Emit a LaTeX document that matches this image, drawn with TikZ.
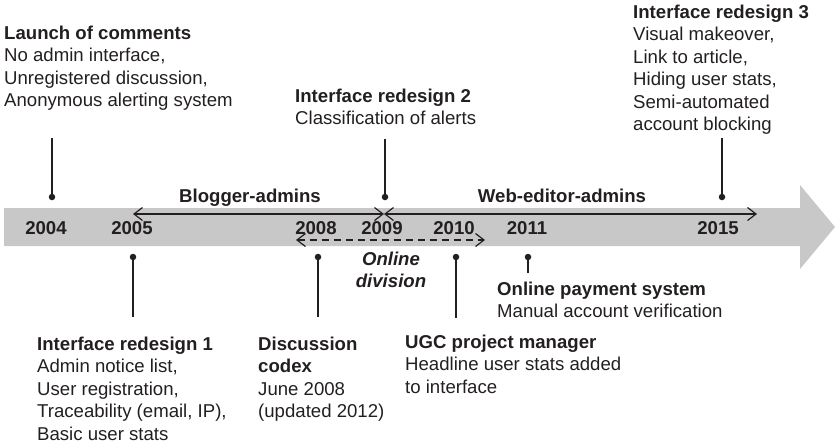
\documentclass[tikz,border=0pt]{standalone}
\usepackage{fontspec}
\setmainfont{Liberation Sans}
\usetikzlibrary{arrows.meta}

\definecolor{ink}{RGB}{35,31,32}
\definecolor{bandgray}{RGB}{200,200,200}
\newcommand\bodysize{\fontsize{18.6}{22.5}\selectfont}
% invisible rule that fixes the height of the first line of a text block
\newcommand\firstline{\rule{0pt}{15pt}}

\begin{document}
\begin{tikzpicture}[x=1pt, y=-1pt,
  txt/.style={anchor=north west, inner sep=0pt, align=left, text=ink, font=\bodysize},
  yearlbl/.style={anchor=base, inner sep=0pt, text=ink, font=\bodysize\bfseries},
  eralbl/.style={anchor=base, inner sep=0pt, text=ink, font=\bodysize\bfseries},
  dot/.style={circle, fill=ink, inner sep=0pt, minimum size=6.5pt},
  stem/.style={draw=ink, line width=1.4pt},
  tip/.tip={Straight Barb[length=8.5pt, width=13pt]},
  span/.style={draw=ink, line width=1.2pt, tip-tip},
  spandash/.style={span, dash pattern=on 7pt off 5pt}
]
\useasboundingbox (0,0) rectangle (835,445);

% timeline band with arrow head
\fill[bandgray] (4,208) -- (800,208) -- (800,185) -- (835,227)
  -- (800,269) -- (800,246) -- (4,246) -- cycle;

% years
\node[yearlbl] (y2004) at (46,234) {2004};
\node[yearlbl] (y2005) at (132,234) {2005};
\node[yearlbl] (y2008) at (316,234) {2008};
\node[yearlbl] (y2009) at (382,234) {2009};
\node[yearlbl] (y2010) at (454,234) {2010};
\node[yearlbl] (y2011) at (527,234) {2011};
\node[yearlbl] (y2015) at (718,234) {2015};

% eras
\node[eralbl] (blog) at (250,202) {Blogger-admins};
\node[eralbl] (web) at (562,202) {Web-editor-admins};
\coordinate (blogL) at (133,214);
\coordinate (blogR) at (384,214);
\coordinate (webL) at (384,214);
\coordinate (webR) at (757,214);
\draw[span] (blogL) -- (blogR);
\draw[span] (webL) -- (webR);

\coordinate (onlL) at (296,240);
\coordinate (onlR) at (485,240);
\draw[spandash] (onlL) -- (onlR);
\node[anchor=north, inner sep=0pt, align=center, text=ink,
      font=\bodysize\bfseries\itshape] (onl) at (391,250)
  {\firstline Online\\division};

% events above the band
\node[dot] (d2004) at (52,197) {};
\node[dot] (d2009) at (385,197) {};
\node[dot] (d2015) at (722,197) {};
\coordinate (s2004) at (52,138);
\coordinate (s2009) at (385,139);
\coordinate (s2015) at (722,138);
\draw[stem] (s2004) -- (d2004.center);
\draw[stem] (s2009) -- (d2009.center);
\draw[stem] (s2015) -- (d2015.center);

\node[txt] (launch) at (4,24) {\firstline\textbf{Launch of comments}\\
  No admin interface,\\Unregistered discussion,\\Anonymous alerting system};
\node[txt] (ir2) at (295,87) {\firstline\textbf{Interface redesign 2}\\
  Classification of alerts};
\node[txt] (ir3) at (633,3) {\firstline\textbf{Interface redesign 3}\\
  Visual makeover,\\Link to article,\\Hiding user stats,\\Semi-automated\\
  account blocking};

% events below the band
\node[dot] (d2005) at (133,257) {};
\node[dot] (d2008) at (318,257) {};
\node[dot] (d2010) at (456,257) {};
\node[dot] (d2011) at (528,257) {};
\coordinate (s2005) at (133,317);
\coordinate (s2008) at (318,317);
\coordinate (s2010) at (456,318);
\coordinate (s2011) at (528,273);
\draw[stem] (d2005.center) -- (s2005);
\draw[stem] (d2008.center) -- (s2008);
\draw[stem] (d2010.center) -- (s2010);
\draw[stem] (d2011.center) -- (s2011);

\node[txt] (ir1) at (37,335) {\firstline\textbf{Interface redesign 1}\\
  Admin notice list,\\User registration,\\Traceability (email, IP),\\
  Basic user stats};
\node[txt] (codex) at (258,335) {\firstline\textbf{Discussion}\\
  \textbf{codex}\\June 2008\\(updated 2012)};
\node[txt] (ugc) at (405,333) {\firstline\textbf{UGC project manager}\\
  Headline user stats added\\to interface};
\node[txt] (pay) at (497,280) {\firstline\textbf{Online payment system}\\
  Manual account verification};
\end{tikzpicture}
\end{document}
